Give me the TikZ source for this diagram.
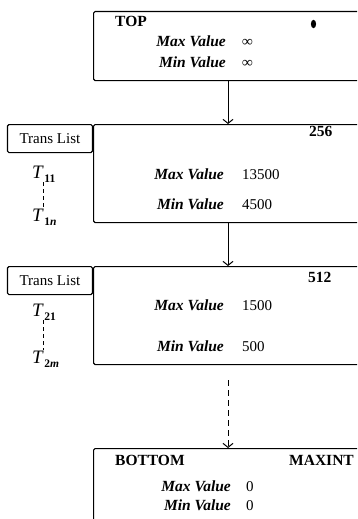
\documentclass[tikz,border=0pt]{standalone}
\usepackage{fontspec}
\setmainfont{Liberation Serif}
\usetikzlibrary{arrows.meta}
\begin{document}
\begin{tikzpicture}[x=1pt,y=-1pt,
  frame/.style={draw, line width=1.1pt, rounded corners=1.5pt, inner sep=0pt, minimum width=300},
  tlbox/.style={draw, line width=1.1pt, rounded corners=1.5pt, inner sep=0pt, minimum width=85, minimum height=28, font=\fontsize{15}{16}\selectfont},
  lab/.style={anchor=base east, inner sep=0pt, font=\bfseries\itshape\fontsize{15.5}{16}\selectfont},
  val/.style={anchor=base west, inner sep=0pt, font=\fontsize{15}{16}\selectfont},
  hdr/.style={inner sep=0pt, font=\bfseries\fontsize{15.5}{16}\selectfont},
  tlab/.style={anchor=base west, inner sep=0pt},
  arr/.style={line width=1pt, -{Straight Barb[length=4pt,width=10pt]}},
  vdash/.style={line width=1pt, dash pattern=on 4pt off 3pt}
]
\useasboundingbox (0,0) rectangle (357,519);
\clip (0,0) rectangle (357,519);
\coordinate (ax) at (228,0);
\coordinate (dx) at (43,0);
\newcommand{\Tl}[1]{{\fontsize{19}{19}\selectfont\itshape T}\,\raisebox{-4pt}{\fontsize{11.5}{11}\selectfont\bfseries #1}}

% TOP box
\node[frame, minimum height=69, anchor=north west] (b1) at (93,11) {};
\node[hdr, anchor=base west] (top) at (115,27) {TOP};
\fill (313.5,24) ellipse [x radius=2.6pt, y radius=4.2pt];
\node[lab] (mx1) at (226,47) {Max Value};
\node[val, font=\bfseries\fontsize{15}{16}\selectfont] (vx1) at (242,47) {∞};
\node[lab] (mn1) at (226,67) {Min Value};
\node[val, font=\bfseries\fontsize{15}{16}\selectfont] (vn1) at (242,67) {∞};

% box 2
\node[frame, minimum height=98, anchor=north west] (b2) at (93,124) {};
\node[tlbox, anchor=north east] (tl2) at (b2.north west) {Trans List};
\node[hdr, anchor=base west] (n2) at (309,136) {256};
\node[lab] (mx2) at (224,179) {Max Value};
\node[val] (vx2) at (242,179) {13500};
\node[lab] (mn2) at (224,209) {Min Value};
\node[val] (vn2) at (242,209) {4500};
\node[tlab] (t11) at (32,178) {\Tl{11}};
\node[tlab] (t1n) at (32,221) {\Tl{1\textit{n}}};
\draw[vdash] (t11.south -| dx) -- (t1n.north -| dx);

% box 3
\node[frame, minimum height=98, anchor=north west] (b3) at (93,266) {};
\node[tlbox, anchor=north east] (tl3) at (b3.north west) {Trans List};
\node[hdr, anchor=base west] (n3) at (308,282) {512};
\node[lab] (mx3) at (224,310) {Max Value};
\node[val] (vx3) at (242,310) {1500};
\node[lab] (mn3) at (224,351) {Min Value};
\node[val] (vn3) at (242,351) {500};
\node[tlab] (t21) at (32,316) {\Tl{21}};
\node[tlab] (t2m) at (32,363) {\Tl{2\textit{m}}};
\draw[vdash] (t21.south -| dx) -- (t2m.north -| dx);

% BOTTOM box
\node[frame, minimum height=100, anchor=north west] (b4) at (93,448) {};
\node[hdr, anchor=base west] (bot) at (115,465) {BOTTOM};
\node[hdr, anchor=base east] (mxi) at (354,465) {MAXINT};
\node[lab] (mx4) at (231,491) {Max Value};
\node[val] (vx4) at (246,491) {0};
\node[lab] (mn4) at (231,510) {Min Value};
\node[val] (vn4) at (246,510) {0};

% connectors
\draw[arr] (b1.south -| ax) -- (b2.north -| ax);
\draw[arr] (b2.south -| ax) -- (b3.north -| ax);
\coordinate (ds) at (228,380);
\draw[arr, dash pattern=on 6pt off 4pt] (ds) -- (b4.north -| ax);
\end{tikzpicture}
\end{document}
